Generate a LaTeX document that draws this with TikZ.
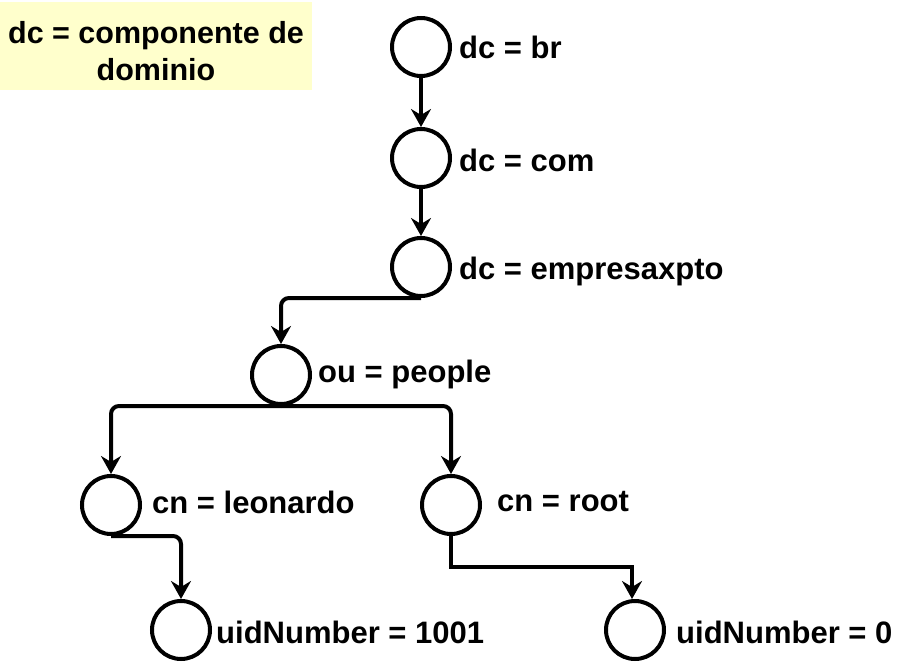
\documentclass[tikz,border=0pt]{standalone}
\usepackage{fontspec}
\setmainfont{Liberation Sans}
\usepackage{tikz}
\usetikzlibrary{arrows.meta, positioning}
\definecolor{notefill}{RGB}{255,255,204}

\tikzset{
  entry/.style={circle, draw, line width=4pt, minimum size=58pt, inner sep=0pt},
  attr/.style={font=\bfseries\fontsize{31}{34}\selectfont, inner sep=0pt, anchor=west},
  link/.style={line width=4pt, -{Stealth[length=18pt, width=20pt, inset=6pt]}}
}

\begin{document}
\begin{tikzpicture}[x=1pt, y=-1pt]
  \useasboundingbox (0,0) rectangle (924,663);
  % legend
  \fill[notefill] (0,2) rectangle (312,90);
  \node[font=\bfseries\fontsize{30.5}{37}\selectfont, align=center] (note) at (156,51) {dc = componente de\\dominio};
  % directory entries
  \node[entry] (br) at (421,47) {};
  \node[entry] (com) at (421,158) {};
  \node[entry] (empresa) at (421,267) {};
  \node[entry] (people) at (281,375) {};
  \node[entry] (leonardo) at (111,505) {};
  \node[entry] (root) at (451,505) {};
  \node[entry] (uidleo) at (181,630) {};
  \node[entry] (uidroot) at (635,630) {};
  % labels
  \node[attr] (lbr) at (459,47) {dc = br};
  \node[attr] (lcom) at (459,160) {dc = com};
  \node[attr] (lempresa) at (459,271) {dc = empresaxpto};
  \node[attr] (lpeople) at (318,374) {ou = people};
  \node[attr] (lleonardo) at (152,502) {cn = leonardo};
  \node[attr] (lroot) at (497,502) {cn = root};
  \node[attr] (luidleo) at (216,632) {uidNumber = 1001};
  \node[attr] (luidroot) at (676,632) {uidNumber = 0};
  % tree edges
  \draw[link] (br) -- (com);
  \draw[link] (com) -- (empresa);
  \draw[link, rounded corners=8pt] (empresa.south) -| (people.north);
  \draw[link, rounded corners=8pt] (people.south) -| (leonardo.north);
  \draw[link, rounded corners=8pt] (people.south) -| (root.north);
  \draw[link, rounded corners=8pt] (leonardo.south) -| (uidleo.north);
  \coordinate (bend) at (451,567);
  \draw[link] (root.south) -- (bend) -| ([xshift=-3pt]uidroot.north);
\end{tikzpicture}
\end{document}
